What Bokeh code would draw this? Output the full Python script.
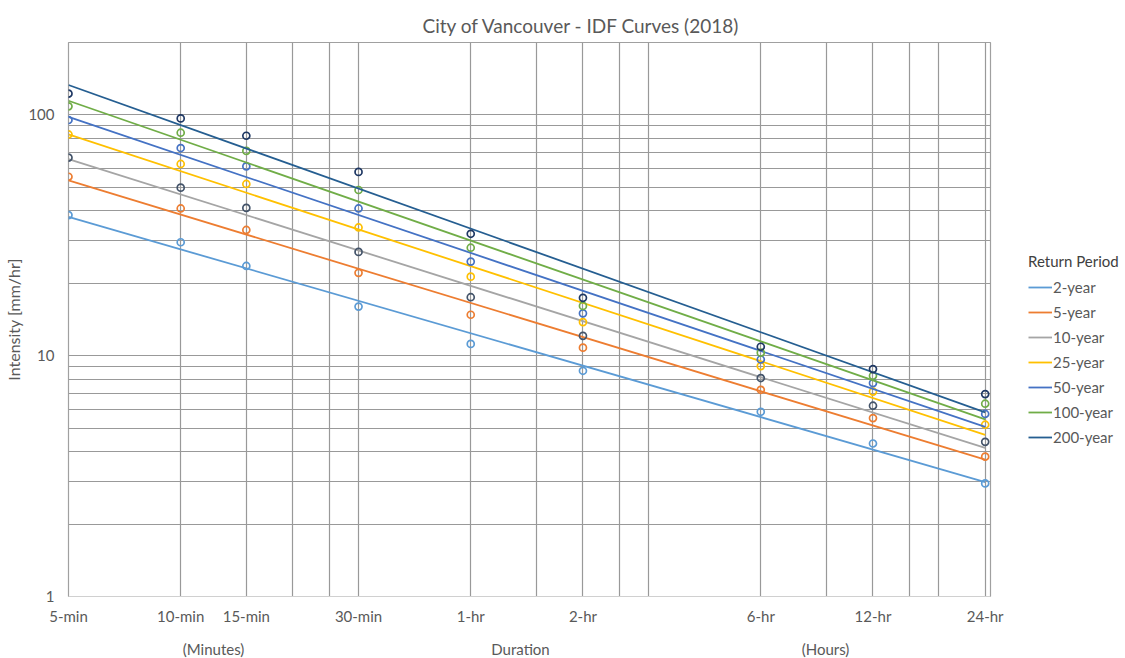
import numpy as np
from bokeh.plotting import figure
from bokeh.models import Range1d, FixedTicker, Legend, LegendItem, Title, LogAxis
from bokeh.embed import file_html
from bokeh.resources import INLINE

# ---------------- data ----------------
durations = [5, 10, 15, 30, 60, 120, 360, 720, 1440]          # minutes
duration_labels = ["5-min", "10-min", "15-min", "30-min", "1-hr", "2-hr", "6-hr", "12-hr", "24-hr"]
grid_x = [5, 10, 15, 20, 25, 30, 60, 90, 120, 150, 180, 360, 540, 720, 900, 1080, 1440]
grid_y = [1, 2, 3, 4, 5, 6, 7, 8, 9, 10, 20, 30, 40, 50, 60, 70, 80, 90, 100, 200]
y_ticks = [1, 10, 100]
unit_label_pos = [12.25, 81.6, 537]          # where the group captions sit (minutes)
unit_labels = ["(Minutes)", "Duration", "(Hours)"]

return_periods = ["2-year", "5-year", "10-year", "25-year", "50-year", "100-year", "200-year"]
i_2yr = [38.4, 29.6, 23.6, 16.0, 11.2, 8.66, 5.85, 4.32, 2.95]
i_5yr = [55.4, 40.9, 33.3, 22.1, 14.8, 10.8, 7.22, 5.51, 3.81]
i_10yr = [66.5, 49.9, 41.1, 27.0, 17.5, 12.1, 8.08, 6.20, 4.39]
i_25yr = [83.0, 62.6, 51.7, 34.1, 21.3, 13.8, 9.06, 7.10, 5.17]
i_50yr = [95.3, 72.9, 61.2, 40.9, 24.6, 15.0, 9.65, 7.70, 5.73]
i_100yr = [108.6, 84.4, 70.9, 48.8, 28.1, 16.1, 10.3, 8.26, 6.32]
i_200yr = [122.6, 96.8, 82.0, 58.0, 32.1, 17.4, 10.9, 8.80, 6.93]
series = [i_2yr, i_5yr, i_10yr, i_25yr, i_50yr, i_100yr, i_200yr]

line_colors = ["#5B9BD5", "#ED7D31", "#A5A5A5", "#FFC000", "#4472C4", "#70AD47", "#255E91"]
marker_colors = ["#5B9BD5", "#ED7D31", "#44546A", "#FFC000", "#4472C4", "#70AD47", "#1F3864"]

FONT = "Lato"
TXT = "#595959"

p = figure(x_axis_type="log", y_axis_type="log",
           x_range=Range1d(5, 1488), y_range=Range1d(1, 200),
           frame_width=922, frame_height=554,
           min_border_left=68, min_border_right=119, min_border_top=42, min_border_bottom=58,
           output_backend="svg", toolbar_location=None,
           background_fill_color="white", border_fill_color="white",
           outline_line_color="#A0A0A0", outline_line_width=1.2)

p.title = Title(text="City of Vancouver - IDF Curves (2018)", align="left", offset=354,
                text_font=FONT, text_font_size="19px", text_font_style="normal",
                text_color=TXT, standoff=11)

# grid
p.xgrid.ticker = FixedTicker(ticks=grid_x)
p.ygrid.ticker = FixedTicker(ticks=grid_y)
for g in (p.xgrid, p.ygrid):
    g.grid_line_color = "#999999"
    g.grid_line_width = 1.2

# axes
p.xaxis.ticker = FixedTicker(ticks=durations)
p.xaxis.major_label_overrides = {d: l for d, l in zip(durations, duration_labels)}
p.yaxis.ticker = FixedTicker(ticks=y_ticks)
p.yaxis.major_label_overrides = {t: str(t) for t in y_ticks}
for ax in (p.xaxis, p.yaxis):
    ax.major_tick_line_color = None
    ax.minor_tick_line_color = None
    ax.major_tick_out = 0
    ax.minor_tick_out = 0
    ax.major_label_text_font = FONT
    ax.major_label_text_font_size = "15px"
    ax.major_label_text_color = TXT
p.xaxis.axis_line_color = "#D0D0D0"
p.yaxis.axis_line_color = None
p.xaxis.major_label_standoff = 10
p.yaxis.major_label_standoff = 14
p.yaxis.axis_label = "Intensity [mm/hr]"
p.yaxis.axis_label_text_font = FONT
p.yaxis.axis_label_text_font_size = "16px"
p.yaxis.axis_label_text_font_style = "normal"
p.yaxis.axis_label_text_color = TXT
p.yaxis.axis_label_standoff = 2

# second row of captions under the duration ticks
cap = LogAxis(ticker=FixedTicker(ticks=unit_label_pos),
              major_label_overrides={v: t for v, t in zip(unit_label_pos, unit_labels)},
              axis_line_color=None, major_tick_line_color=None, minor_tick_line_color=None,
              major_tick_out=0, minor_tick_out=0, major_label_standoff=12,
              major_label_text_font=FONT, major_label_text_font_size="15px",
              major_label_text_color=TXT)
p.add_layout(cap, "below")

# series: power-law trendlines (least squares in log-log) + observed points
logx = np.log10(durations)
items = []
for name, vals, lc, mc in zip(return_periods, series, line_colors, marker_colors):
    slope, icpt = np.polyfit(logx, np.log10(vals), 1)
    xs = [durations[0], durations[-1]]
    ys = [10 ** (icpt + slope * np.log10(x)) for x in xs]
    r = p.line(xs, ys, line_color=lc, line_width=1.8)
    p.scatter(durations, vals, marker="circle", size=7, line_color=mc,
              line_width=1.7, fill_color=None)
    items.append(LegendItem(label=name, renderers=[r]))

legend = Legend(items=items, title="Return Period", location=(38, 149),
                padding=0, margin=0, spacing=5, glyph_width=24, glyph_height=20,
                label_height=20, label_standoff=1,
                label_text_font=FONT, label_text_font_size="15px", label_text_color=TXT,
                title_text_font=FONT, title_text_font_size="15px", title_text_font_style="normal",
                title_text_color="#404040", title_standoff=7,
                background_fill_alpha=0, border_line_color=None)
p.add_layout(legend, "right")

open("out.html", "w").write(file_html(p, INLINE))
